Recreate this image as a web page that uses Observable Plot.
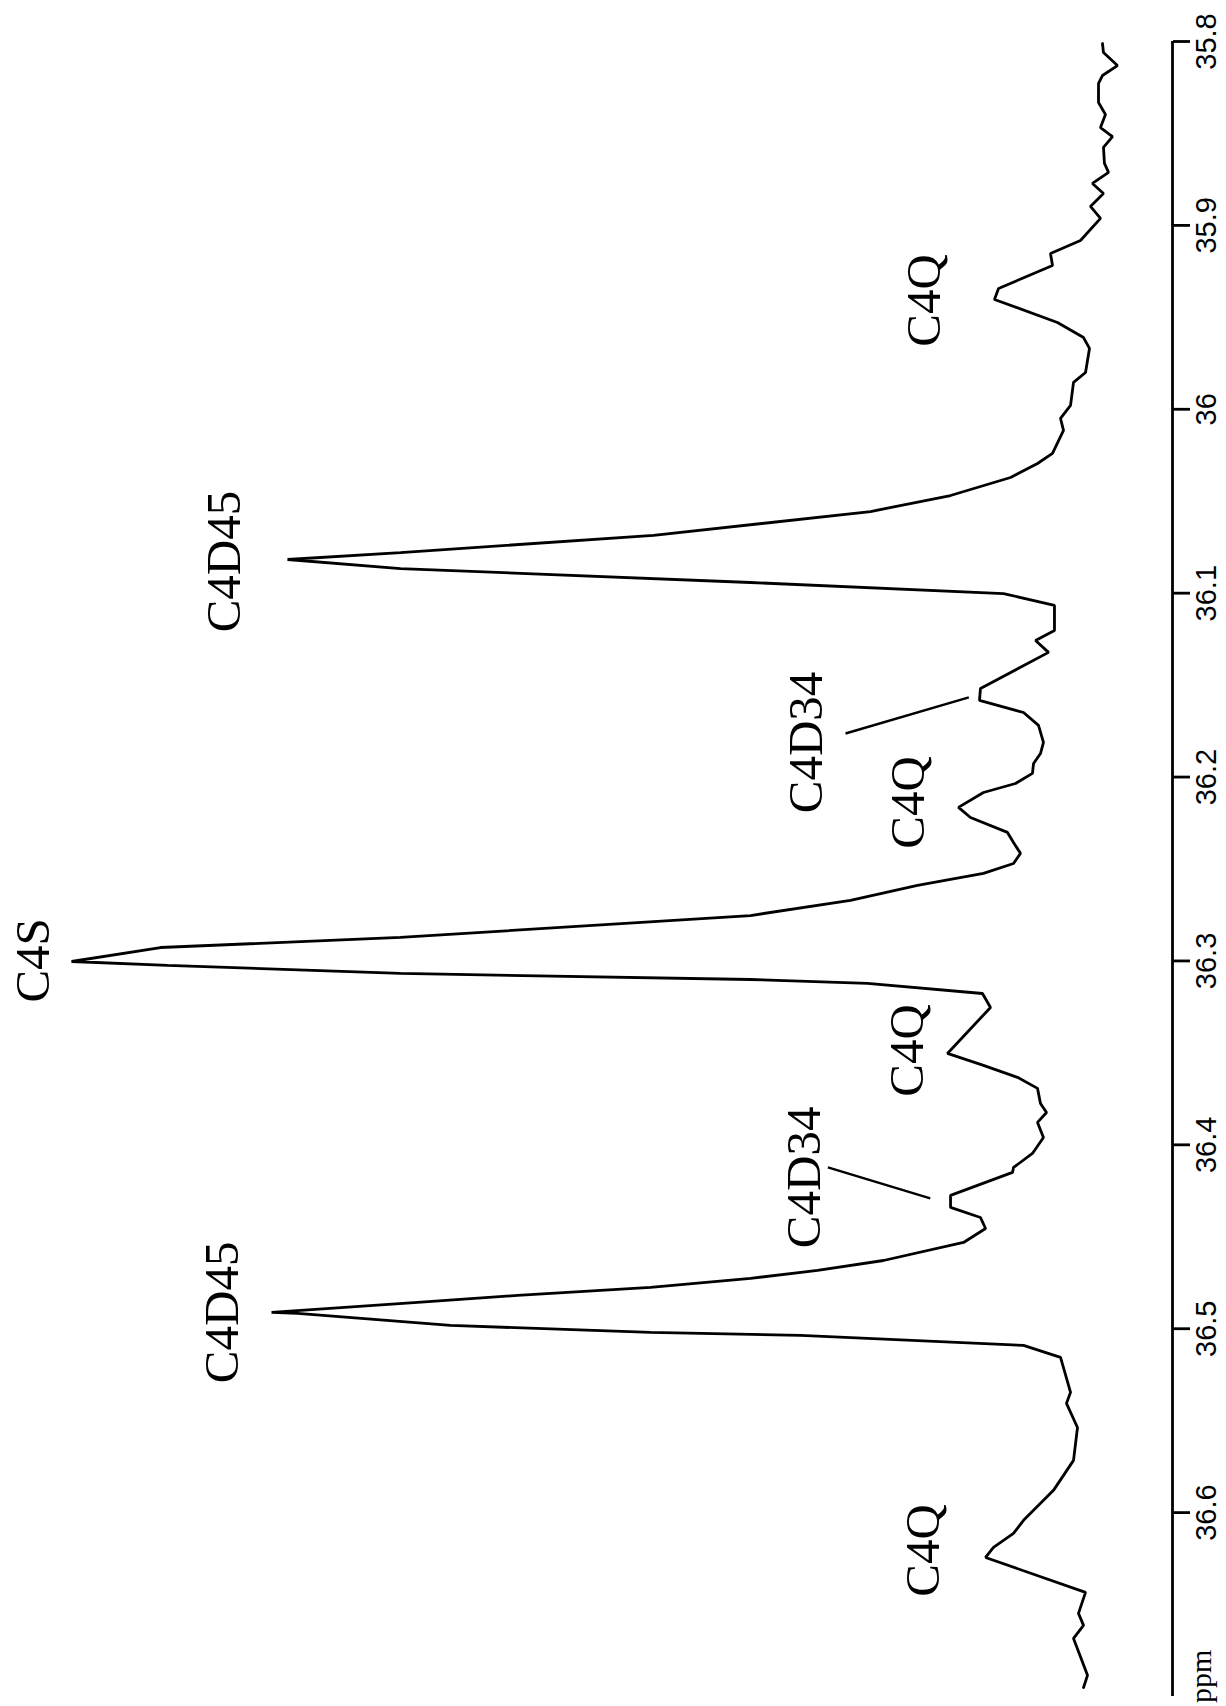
<!DOCTYPE html>
<html>
<head>
<meta charset="utf-8">
<script src="https://cdn.jsdelivr.net/npm/d3@7"></script>
<script src="https://cdn.jsdelivr.net/npm/@observablehq/plot@0.6"></script>
<style>
  html, body { margin: 0; padding: 0; background: #fff; }
  #chart svg { display: block; }
</style>
</head>
<body>
<div id="chart"></div>
<script>
// Chemical shift (ppm) of each traced point of the spectrum, top to bottom
const ppm = [
  35.8011, 35.8060, 35.8131, 35.8185, 35.8228, 35.8332, 35.8397, 35.8468, 35.8517, 35.8576,
  35.8663, 35.8712, 35.8772, 35.8827, 35.8897, 35.8962, 35.9082, 35.9153, 35.9218, 35.9343,
  35.9403, 35.9528, 35.9610, 35.9669, 35.9800, 35.9854, 35.9979, 36.0050, 36.0115, 36.0240,
  36.0295, 36.0371, 36.0469, 36.0556, 36.0686, 36.0779, 36.0817, 36.0866, 36.0942, 36.1002,
  36.1067, 36.1203, 36.1257, 36.1322, 36.1518, 36.1583, 36.1649, 36.1719, 36.1812, 36.1872,
  36.1926, 36.1980, 36.2035, 36.2084, 36.2165, 36.2220, 36.2301, 36.2356, 36.2415, 36.2470,
  36.2524, 36.2589, 36.2671, 36.2753, 36.2872, 36.2927, 36.3003, 36.3024, 36.3068, 36.3101,
  36.3122, 36.3177, 36.3253, 36.3503, 36.3568, 36.3633, 36.3693, 36.3775, 36.3824, 36.3878,
  36.3960, 36.4047, 36.4123, 36.4150, 36.4275, 36.4340, 36.4395, 36.4455, 36.4531, 36.4629,
  36.4683, 36.4726, 36.4775, 36.4819, 36.4857, 36.4911, 36.4917, 36.4982, 36.5020, 36.5036,
  36.5091, 36.5156, 36.5346, 36.5406, 36.5537, 36.5716, 36.5879, 36.6042, 36.6113, 36.6189,
  36.6244, 36.6434, 36.6548, 36.6613, 36.6684, 36.6885, 36.6951
];
// Signal intensity (arbitrary units, C4S peak = 100)
const intensity = [
  6.36, 6.27, 5.00, 6.36, 6.72, 6.72, 6.09, 6.54, 5.45, 6.27,
  6.18, 5.81, 7.27, 6.27, 7.45, 6.54, 8.36, 11.08, 10.90, 15.80,
  16.17, 10.45, 8.08, 7.54, 7.90, 8.99, 9.26, 10.17, 9.90, 10.90,
  12.26, 14.71, 20.16, 27.43, 47.14, 70.12, 80.38, 70.12, 38.33, 15.35,
  10.72, 10.72, 12.44, 11.26, 17.44, 17.53, 13.53, 12.17, 11.72, 11.99,
  12.62, 12.72, 14.26, 17.17, 19.44, 18.35, 14.99, 14.44, 13.81, 14.44,
  17.17, 23.16, 29.25, 38.33, 70.12, 91.92, 100.0, 91.28, 70.12, 38.33,
  27.70, 17.26, 16.53, 20.44, 17.17, 14.08, 12.26, 11.99, 11.44, 12.26,
  11.72, 12.72, 14.44, 14.53, 20.16, 20.16, 17.44, 16.98, 18.98, 26.25,
  32.24, 38.33, 47.41, 59.49, 68.57, 81.83, 79.47, 65.58, 47.41, 33.79,
  13.53, 10.17, 9.26, 9.63, 8.63, 8.99, 10.81, 13.53, 14.44, 16.26,
  16.98, 7.90, 8.54, 8.08, 8.99, 7.72, 8.08
];

// Axis ticks
const tickValues = [35.8, 35.9, 36, 36.1, 36.2, 36.3, 36.4, 36.5, 36.6];
const axisDomain = [35.8, 36.7];
const axisUnit = "ppm";

// Peak labels
const labelText = ["C4Q", "C4D45", "C4D34", "C4Q", "C4S", "C4Q", "C4D34", "C4D45", "C4Q"];
const labelPpm = [35.9408, 36.0828, 36.1812, 36.2138, 36.2997, 36.3487, 36.4177, 36.4911, 36.6206];
const labelIntensity = [21.1, 84.7, 31.8, 22.6, 102.0, 22.7, 32.0, 84.9, 21.25];

// Leader lines for the C4D34 labels
const leaderPpmStart = [36.1763, 36.4123];
const leaderIntStart = [29.7, 31.3];
const leaderPpmEnd = [36.1567, 36.4291];
const leaderIntEnd = [18.5, 22.0];

const spectrum = ppm.map((p, i) => ({ppm: p, intensity: intensity[i]}));
const labels = labelText.map((t, i) => ({text: t, ppm: labelPpm[i], intensity: labelIntensity[i]}));
const leaders = leaderPpmStart.map((p, i) => ({
  y1: p, x1: leaderIntStart[i], y2: leaderPpmEnd[i], x2: leaderIntEnd[i]
}));

const chart = Plot.plot({
  width: 1226,
  height: 1706,
  marginTop: 41,
  marginBottom: 10,
  marginLeft: 71,
  marginRight: 54,
  style: {background: "#fff", color: "#000", fontFamily: "'Liberation Sans', Arial, sans-serif"},
  x: {domain: [0, 100], reverse: true, axis: null},
  y: {domain: axisDomain, reverse: true},
  marks: [
    Plot.ruleX([0], {y1: axisDomain[0], y2: axisDomain[1], stroke: "#000", strokeWidth: 2.8}),
    Plot.axisY({
      anchor: "right",
      ticks: tickValues,
      tickFormat: d => String(d),
      tickSize: 17,
      tickPadding: 6,
      tickRotate: -90,
      lineAnchor: "top",
      textAnchor: "middle",
      fontSize: 29,
      strokeWidth: 2.8,
      label: null
    }),
    Plot.text([axisUnit], {
      x: -1.6, y: 36.689, text: d => d,
      rotate: -90, textAnchor: "middle", lineAnchor: "top",
      fontSize: 30, fontFamily: "'Liberation Serif', 'Times New Roman', serif", fill: "#000"
    }),
    Plot.line(spectrum, {
      x: "intensity", y: "ppm", stroke: "#000", strokeWidth: 2.8,
      strokeLinejoin: "miter", curve: "linear"
    }),
    Plot.link(leaders, {x1: "x1", y1: "y1", x2: "x2", y2: "y2", stroke: "#000", strokeWidth: 2.4}),
    Plot.text(labels, {
      x: "intensity", y: "ppm", text: "text",
      rotate: -90, textAnchor: "middle", lineAnchor: "bottom",
      fontSize: 49, fontFamily: "'Liberation Serif', 'Times New Roman', serif", fill: "#000"
    })
  ]
});
document.getElementById("chart").appendChild(chart);
</script>
</body>
</html>
